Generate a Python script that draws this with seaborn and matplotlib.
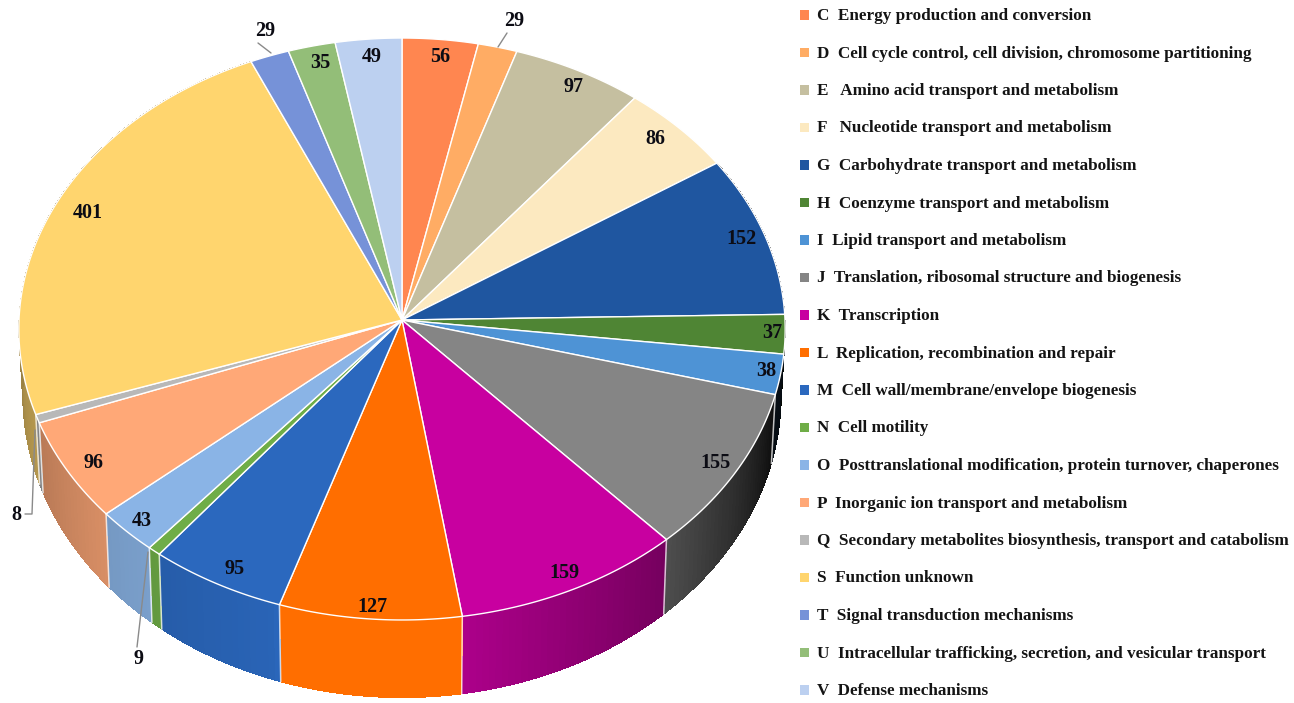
import numpy as np
import pandas as pd
import matplotlib
matplotlib.use("Agg")
import matplotlib.pyplot as plt
import seaborn as sns

# COG functional classes and their gene counts
letters = ["C", "D", "E", "F", "G", "H", "I", "J", "K", "L", "M", "N", "O", "P", "Q", "S", "T", "U", "V"]
descriptions = [
    "C  Energy production and conversion",
    "D  Cell cycle control, cell division, chromosome partitioning",
    "E   Amino acid transport and metabolism",
    "F   Nucleotide transport and metabolism",
    "G  Carbohydrate transport and metabolism",
    "H  Coenzyme transport and metabolism",
    "I  Lipid transport and metabolism",
    "J  Translation, ribosomal structure and biogenesis",
    "K  Transcription",
    "L  Replication, recombination and repair",
    "M  Cell wall/membrane/envelope biogenesis",
    "N  Cell motility",
    "O  Posttranslational modification, protein turnover, chaperones",
    "P  Inorganic ion transport and metabolism",
    "Q  Secondary metabolites biosynthesis, transport and catabolism",
    "S  Function unknown",
    "T  Signal transduction mechanisms",
    "U  Intracellular trafficking, secretion, and vesicular transport",
    "V  Defense mechanisms",
]
counts = [56, 29, 97, 86, 152, 37, 38, 155, 159, 127, 95, 9, 43, 96, 8, 401, 29, 35, 49]
colors = ["#FF8650", "#FFAC64", "#C5BFA0", "#FCE9C0", "#1F56A0", "#4F8534", "#4E93D5",
          "#858585", "#C800A0", "#FF6E00", "#2B68BE", "#6FAD47", "#8AB4E6", "#FFA877",
          "#B8B8B8", "#FFD56E", "#7692D8", "#93BE78", "#BCD0F0"]

# Anchor of each count label, in figure pixels
label_x = [440, 514, 574, 655, 742, 772, 766, 716, 564, 372, 235, 139, 142, 93, 16, 88, 265, 320, 372]
label_y = [56.5, 21.5, 86.5, 138.5, 238.5, 333.5, 371.5, 462.5, 573.5, 606.5, 569.5, 659.5, 520.5, 462.5, 515.5, 213.5, 30.5, 63.5, 56.5]

# Leader lines for the narrow slices: (from x, from y, to x, to y)
leaders = [(507, 33, 498, 47), (258, 43, 271, 53), (137, 647, 148, 552), (25, 514, 35, 430)]
leader_elbow = (32, 514)

# Projection of the tilted disc: centre, radius, vertical radius, foreshortening
CX, CY, RAD, VRAD, TILT = 402.0, 320.0, 383.0, 290.7, 0.0309
BASE_CY, BASE_RAD, BASE_VRAD = 386.0, 379.0, 302.0

# Wall brightness as a function of clockwise angle from twelve o'clock
shade_angle = [85, 105, 137, 171.0, 171.4, 198, 199, 229, 250, 275]
shade_value = [0.05, 0.10, 0.58, 0.86, 1.00, 1.00, 0.96, 0.85, 0.72, 0.58]

sns.set_theme(style="white")
serif = ["Liberation Serif", "DejaVu Serif"]
palette = sns.color_palette(colors)


def rim(theta_deg, cy, rad, vrad):
    t = np.radians(theta_deg)
    u, v = np.sin(t), np.cos(t)
    w = 1 + TILT * v
    return CX + rad * u / w, cy - vrad * v / w


fig = plt.figure(figsize=(12.94, 7.03), dpi=100)
ax = fig.add_axes([0, 0, 1, 1])
ax.set_xlim(0, 1294)
ax.set_ylim(703, 0)
ax.axis("off")

bounds = np.concatenate([[0], np.cumsum(counts)]) / np.sum(counts) * 360.0

# Side wall: a solid backing per slice, then narrow shaded strips over it
for start, end, col in zip(bounds[:-1], bounds[1:], palette):
    if end < 80 or start > 285:
        continue
    steps = np.linspace(start, end, max(2, int(end - start) + 2))
    xt, yt = rim(steps, CY, RAD, VRAD)
    xb, yb = rim(steps[::-1], BASE_CY, BASE_RAD, BASE_VRAD)
    mid = np.interp((start + end) / 2, shade_angle, shade_value)
    ax.fill(np.r_[xt, xb], np.r_[yt, yb], color=tuple(np.array(col) * mid), lw=0, zorder=1.5)
    for a0, a1 in zip(steps[:-1], steps[1:]):
        f = np.interp((a0 + a1) / 2, shade_angle, shade_value)
        strip = tuple(np.array(col) * f)
        xt, yt = rim(np.array([a0, a1]), CY, RAD, VRAD)
        xb, yb = rim(np.array([a1, a0]), BASE_CY, BASE_RAD, BASE_VRAD)
        ax.fill(np.r_[xt, xb], np.r_[yt, yb], color=strip, lw=0, antialiased=False, zorder=2)

# Pale seams where neighbouring slices meet on the wall
for a in bounds:
    if 100 < a < 260:
        xt, yt = rim(a, CY, RAD, VRAD)
        xb, yb = rim(a, BASE_CY, BASE_RAD, BASE_VRAD)
        ax.plot([xt, xb], [yt, yb], color="white", alpha=0.75, lw=1.1, zorder=3)

# Top face of the pie
for start, end, col in zip(bounds[:-1], bounds[1:], palette):
    arc = np.linspace(start, end, max(3, int((end - start) * 3)))
    xa, ya = rim(arc, CY, RAD, VRAD)
    ax.fill(np.r_[CX, xa], np.r_[CY, ya], facecolor=col, edgecolor="white",
            lw=1.0, joinstyle="round", zorder=4)

# Count labels
for x, y, n in zip(label_x, label_y, counts):
    ax.text(x, y, str(n), ha="center", va="center", fontsize=14.5, fontweight="bold",
            family=serif, color="#0c0c14", zorder=6)

# Leader lines
for x0, y0, x1, y1 in leaders[:3]:
    ax.plot([x0, x1], [y0, y1], color="#8a8a8a", lw=1.0, zorder=5)
x0, y0, x1, y1 = leaders[3]
ax.plot([x0, leader_elbow[0], x1], [y0, leader_elbow[1], y1], color="#8a8a8a", lw=1.0, zorder=5)

# Key: one square swatch and one description per class
row_y = 15 + 37.5 * np.arange(len(letters))
key = pd.DataFrame({"x": np.full(len(letters), 804.5), "y": row_y, "cog": letters})
sns.scatterplot(data=key, x="x", y="y", hue="cog", palette=colors, hue_order=letters,
                marker="s", s=42, linewidth=0, legend=False, ax=ax, zorder=6)
ax.set_xlabel("")
ax.set_ylabel("")
ax.set_xlim(0, 1294)
ax.set_ylim(703, 0)
for y, text in zip(row_y, descriptions):
    ax.text(817, y + 1, text, ha="left", va="center", fontsize=12.3, fontweight="bold",
            family=serif, color="#141414", zorder=6)

fig.savefig("out.png", dpi=100)
